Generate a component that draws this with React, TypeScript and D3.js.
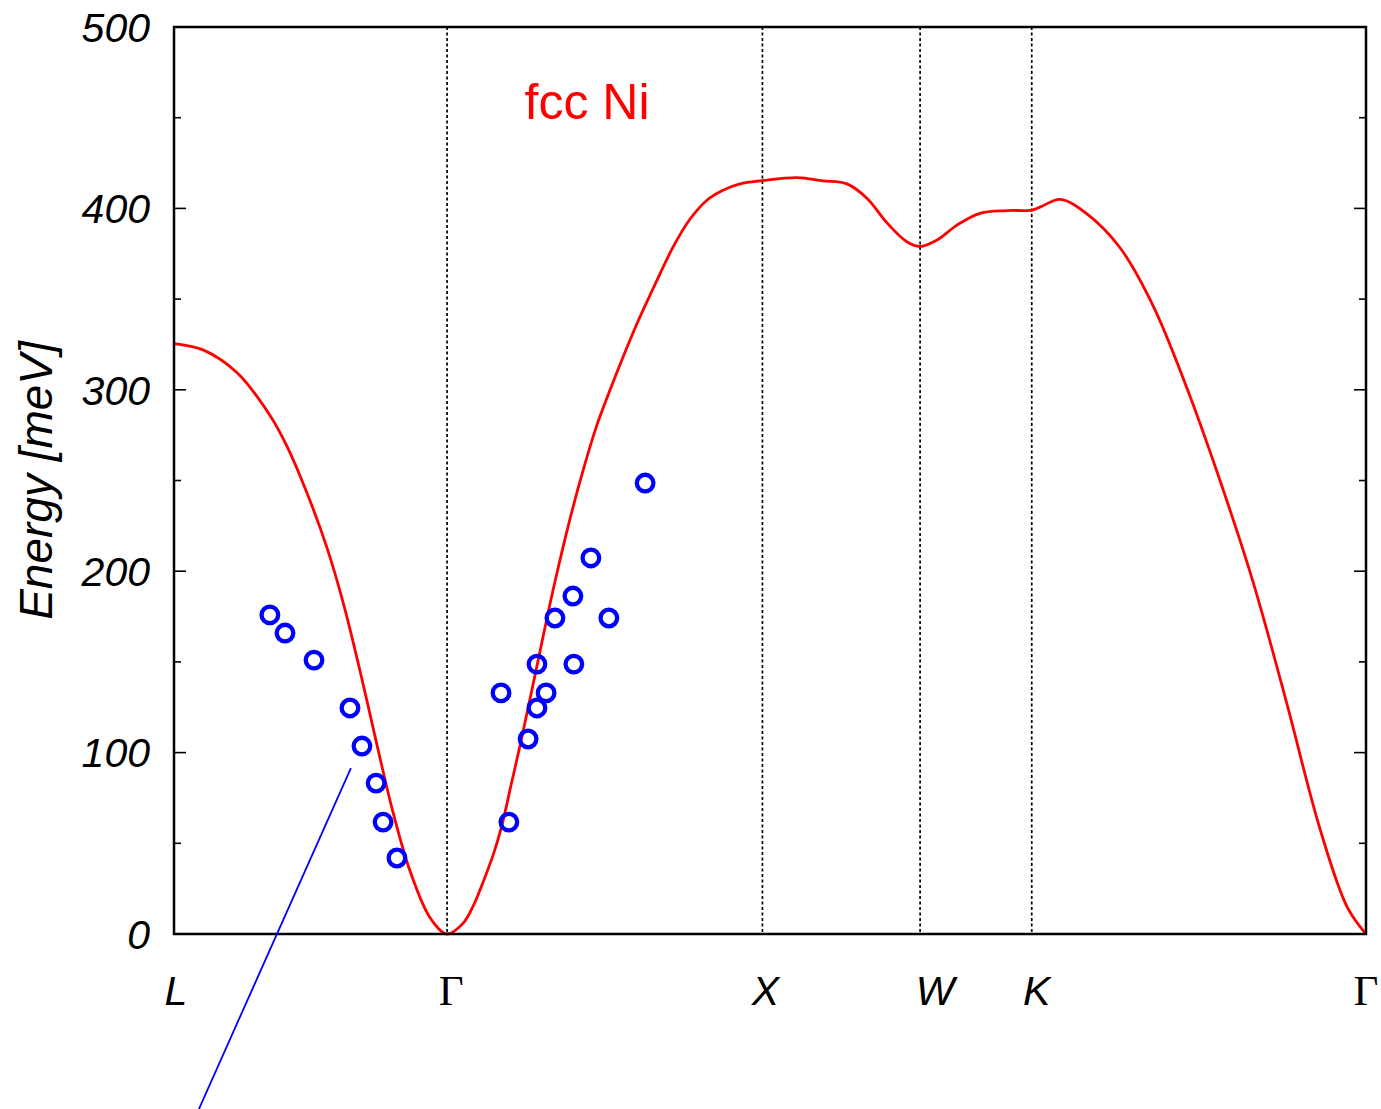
import React, { useEffect, useRef } from "react";
import * as d3 from "d3";

// k-path distance (units of 2π/a) and calculated magnon energy [meV]
const pathK = [
  0.0, 0.092, 0.2, 0.304, 0.358, 0.422, 0.485, 0.536, 0.59, 0.644, 0.694, 0.748, 0.812, 0.866,
  0.917, 0.949, 0.981, 1.013, 1.04, 1.07, 1.1, 1.15, 1.2, 1.256, 1.298, 1.34, 1.383, 1.425,
  1.467, 1.509, 1.532, 1.582, 1.636, 1.69, 1.741, 1.795, 1.866,
  1.976, 2.058, 2.134, 2.198, 2.261, 2.324, 2.366, 2.42,
  2.483, 2.556, 2.641, 2.72, 2.75, 2.81, 2.895, 3.0, 3.105, 3.212, 3.317, 3.422, 3.529, 3.634,
  3.72, 3.78,
];
const pathE = [
  325.5, 322, 309.4, 286, 269, 243, 213, 183, 145, 104, 67.5, 35, 9, 0,
  6, 15.5, 29, 44, 60, 83, 106, 147, 188, 229, 256, 280, 300, 318.5,
  336, 352, 360.5, 378.5, 394, 404.5, 410, 413.5, 415.3,
  417, 415.2, 413.5, 405.5, 392, 381.6, 379, 382.6,
  390.8, 397.3, 398.8, 399.1, 401, 405, 397, 378.3, 346.3, 301, 250, 194, 127, 58,
  15, 0,
];

// measured points (neutron scattering)
const expK = [
  0.304, 0.352, 0.444, 0.558, 0.596, 0.641, 0.663, 0.707,
  1.037, 1.062, 1.123, 1.151, 1.151, 1.18, 1.208, 1.265, 1.268, 1.322, 1.379, 1.494,
];
const expE = [
  175.9, 165.9, 151.0, 124.6, 103.6, 83.2, 61.7, 41.9,
  132.9, 61.7, 107.5, 148.8, 124.6, 132.9, 174.2, 186.3, 148.8, 207.3, 174.2, 248.6,
];

// high-symmetry points
const symLabels = ["L", "Γ", "X", "W", "K", "Γ"];
const symK = [0, 0.866, 1.866, 2.366, 2.72, 3.78];
const symLabelShift = [2, 4, 3, 15, 5, 0];

const yTicks = [0, 100, 200, 300, 400, 500];
const yMinorTicks = [50, 150, 250, 350, 450];

// annotation line (data coords)
const noteK = [0.561, 0.079];
const noteE = [91.5, -96.5];

const W = 1381;
const H = 1109;

const App = () => {
  const svgRef = useRef<SVGSVGElement | null>(null);

  useEffect(() => {
    if (!svgRef.current) return;
    const svg = d3.select(svgRef.current);
    svg.selectAll("*").remove();

    const left = 174;
    const right = 1366;
    const top = 27;
    const bottom = 934;

    const x = d3.scaleLinear().domain([0, 3.78]).range([left, right]);
    const y = d3.scaleLinear().domain([0, 500]).range([bottom, top]);

    const tickFont = "'Liberation Sans', Arial, sans-serif";

    // dotted lines at interior symmetry points
    symK.slice(1, -1).forEach((k) => {
      svg
        .append("line")
        .attr("x1", x(k))
        .attr("x2", x(k))
        .attr("y1", top)
        .attr("y2", bottom)
        .attr("stroke", "#000")
        .attr("stroke-width", 1.7)
        .attr("stroke-dasharray", "3,2.5");
    });

    // ticks, left and right, pointing inward
    yTicks.forEach((t) => {
      svg.append("line").attr("x1", left).attr("x2", left + 12).attr("y1", y(t)).attr("y2", y(t))
        .attr("stroke", "#000").attr("stroke-width", 1.6);
      svg.append("line").attr("x1", right).attr("x2", right - 12).attr("y1", y(t)).attr("y2", y(t))
        .attr("stroke", "#000").attr("stroke-width", 1.6);
      svg
        .append("text")
        .attr("x", 150)
        .attr("y", y(t))
        .attr("dy", "0.36em")
        .attr("text-anchor", "end")
        .attr("font-family", tickFont)
        .attr("font-style", "italic")
        .attr("font-size", 41)
        .attr("fill", "#000")
        .text(t);
    });
    yMinorTicks.forEach((t) => {
      svg.append("line").attr("x1", left).attr("x2", left + 7).attr("y1", y(t)).attr("y2", y(t))
        .attr("stroke", "#000").attr("stroke-width", 1.6);
      svg.append("line").attr("x1", right).attr("x2", right - 7).attr("y1", y(t)).attr("y2", y(t))
        .attr("stroke", "#000").attr("stroke-width", 1.6);
    });

    // x labels
    symLabels.forEach((s, i) => {
      const isGamma = s === "Γ";
      svg
        .append("text")
        .attr("x", x(symK[i]) + symLabelShift[i])
        .attr("y", 1005)
        .attr("text-anchor", "middle")
        .attr("font-family", isGamma ? "'Liberation Serif', 'Times New Roman', serif" : tickFont)
        .attr("font-style", isGamma ? "normal" : "italic")
        .attr("font-size", isGamma ? 43 : 41)
        .attr("fill", "#000")
        .text(s);
    });

    // y axis title
    svg
      .append("text")
      .attr("transform", `translate(52, ${y(250)}) rotate(-90)`)
      .attr("text-anchor", "middle")
      .attr("font-family", tickFont)
      .attr("font-style", "italic")
      .attr("font-size", 46)
      .attr("fill", "#000")
      .text("Energy [meV]");

    // dispersion curve
    const line = d3
      .line<number>()
      .x((_, i) => x(pathK[i]))
      .y((d) => Math.min(y(d), bottom))
      .curve(d3.curveCatmullRom.alpha(0.5));

    svg
      .append("path")
      .attr("d", line(pathE))
      .attr("fill", "none")
      .attr("stroke", "#ff0000")
      .attr("stroke-width", 2.8)
      .attr("stroke-linejoin", "round");

    // measured points
    svg
      .append("g")
      .selectAll("circle")
      .data(expE)
      .join("circle")
      .attr("cx", (_, i) => x(expK[i]))
      .attr("cy", (d) => y(d))
      .attr("r", 8.3)
      .attr("fill", "none")
      .attr("stroke", "#0000ff")
      .attr("stroke-width", 4.3);

    // frame
    svg
      .append("rect")
      .attr("x", left)
      .attr("y", top)
      .attr("width", right - left)
      .attr("height", bottom - top)
      .attr("fill", "none")
      .attr("stroke", "#000")
      .attr("stroke-width", 2.5);

    // annotation line
    svg
      .append("line")
      .attr("x1", x(noteK[0]))
      .attr("y1", y(noteE[0]))
      .attr("x2", x(noteK[1]))
      .attr("y2", y(noteE[1]))
      .attr("stroke", "#0000ff")
      .attr("stroke-width", 1.8);

    // title
    svg
      .append("text")
      .attr("x", 587)
      .attr("y", 119)
      .attr("text-anchor", "middle")
      .attr("font-family", tickFont)
      .attr("font-size", 50)
      .attr("fill", "#ff0000")
      .text("fcc Ni");
  }, []);

  return (
    <div style={{ position: "absolute", left: 0, top: 0, width: W, height: H, background: "#fff" }}>
      <svg ref={svgRef} width={W} height={H} style={{ display: "block" }} />
    </div>
  );
};

export default App;
